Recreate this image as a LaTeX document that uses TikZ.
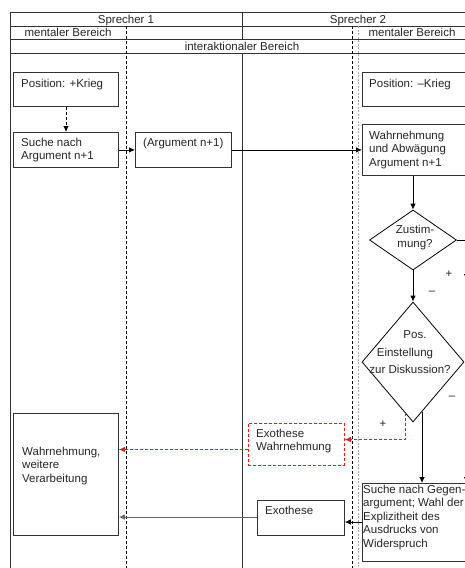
\documentclass[tikz,border=0pt]{standalone}
\usepackage{fontspec}
\setmainfont{Liberation Sans}
\usetikzlibrary{shapes.geometric,calc,arrows.meta}
\definecolor{linegray}{HTML}{333333}
\definecolor{redd}{HTML}{E02020}
\tikzset{
  grid/.style={draw=linegray, line width=0.6pt},
  lane/.style={draw=black, line width=0.6pt, dash pattern=on 3pt off 2pt},
  lanegray/.style={draw=gray!70, line width=0.5pt, dash pattern=on 2pt off 1.5pt},
  box/.style={draw=linegray, line width=0.8pt, rectangle, inner sep=0pt, anchor=north west},
  redbox/.style={draw=redd, line width=0.8pt, dash pattern=on 3pt off 2pt, rectangle, inner sep=0pt, anchor=north west},
  dia/.style={draw=black, line width=0.8pt, diamond, inner sep=0pt},
  txt/.style={inner sep=0pt, font=\fontsize{11.5}{13.5}\selectfont, align=left, anchor=north west, text=black!85},
  ctxt/.style={inner sep=0pt, font=\fontsize{11.5}{13.5}\selectfont, anchor=base, text=black!85},
  conn/.style={draw=black, line width=0.8pt, -{Latex[length=6pt,width=5.5pt]}},
  gconn/.style={draw=black!60, line width=0.9pt, -{Latex[length=6pt,width=5.5pt]}},
  rconn/.style={draw=redd, line width=0.8pt, dash pattern=on 3pt off 2pt, -{Latex[length=6pt,width=5.5pt]}},
  dconn/.style={draw=black, line width=0.8pt, dash pattern=on 3pt off 2pt, -{Latex[length=6pt,width=5.5pt]}},
}
\begin{document}
\begin{tikzpicture}[x=1pt,y=-1pt]
\useasboundingbox (0,0) rectangle (465,568);
\clip (0,0) rectangle (465,568);
\fill[white] (0,0) rectangle (465,568);
% table frame
\draw[grid] (10,12) -- (470,12);
\draw[grid] (10,26) -- (470,26);
\draw[grid] (10,39) -- (470,39);
\draw[grid] (10,53) -- (470,53);
\draw[grid] (10,12) -- (10,570);
\draw[grid] (242,12) -- (242,39);
\draw[grid] (242,53) -- (242,570);
\draw[lane] (126,26) -- (126,570);
\draw[lane] (352.5,26) -- (352.5,570);
\draw[lanegray] (358,26) -- (358,570);
% headers
\node[ctxt] (h1) at (126,23) {Sprecher 1};
\node[ctxt] (h2) at (358,23) {Sprecher 2};
\node[ctxt] (h3) at (68,36.5) {mentaler Bereich};
\node[ctxt] (h4) at (412,36.5) {mentaler Bereich};
\node[ctxt] (h5) at (242,50) {interaktionaler Bereich};
% boxes
\node[box, minimum width=105, minimum height=34] (p1) at (13,72) {};
\node[txt] (p1t) at (21,78.6) {Position: +Krieg};
\node[box, minimum width=105, minimum height=35] (s1) at (13,132) {};
\node[txt] (s1t) at (21,137.6) {Suche nach\\Argument n+1};
\node[box, minimum width=96, minimum height=35] (a1) at (135,132) {};
\node[txt] (a1t) at (143,137.6) {(Argument n+1)};
\node[box, minimum width=110, minimum height=34] (p2) at (362,72) {};
\node[txt] (p2t) at (369,78.6) {Position: --Krieg};
\node[box, minimum width=110, minimum height=51] (w2) at (362,124) {};
\node[txt] (w2t) at (369,130.6) {Wahrnehmung\\und Abwägung\\Argument n+1};
\node[dia, minimum width=87, minimum height=60] (z) at (413,240) {};
\node[ctxt] (zt1) at (415,233) {Zustim-};
\node[ctxt] (zt2) at (415,247) {mung?};
\node[dia, minimum width=102, minimum height=120] (d) at (413,362) {};
\node[ctxt] (dt1) at (415,338) {Pos.};
\node[ctxt] (dt2) at (405,356) {Einstellung};
\node[ctxt] (dt3) at (410,373) {zur Diskussion?};
\node[redbox, minimum width=96, minimum height=42] (ew) at (248,423) {};
\node[txt] (ewt) at (256,428.6) {Exothese\\Wahrnehmung};
\node[box, minimum width=105, minimum height=122] (ww) at (13,413) {};
\node[txt] (wwt) at (22,446.6) {Wahrnehmung,\\weitere\\Verarbeitung};
\node[box, minimum width=87, minimum height=35] (ex) at (257,500) {};
\node[txt] (ext) at (265,505.6) {Exothese};
\node[box, minimum width=110, minimum height=78] (g) at (362,483) {};
\node[txt] (gt) at (363,484.6) {Suche nach Gegen-\\argument; Wahl der\\Explizitheit des\\Ausdrucks von\\Widerspruch};
% labels
\node[ctxt] (l1) at (449,277) {+};
\node[ctxt] (l2) at (432,294) {--};
\node[ctxt] (l3) at (452,399) {--};
\node[ctxt] (l4) at (383,427) {+};
% connectors
\draw[dconn] (p1.south -| 66,0) -- (s1.north -| 66,0);
\draw[conn] (s1.east) -- (a1.west);
\draw[conn] (a1.east) -- (a1.east -| w2.west);
\draw[conn] (w2.south -| z.north) -- (z.north);
\draw[conn] (z.south) -- (d.north);
\coordinate (zr1) at (466.5,240);
\coordinate (zr2) at (466.5,280);
\draw[conn] (z.east) -- (zr1) -- (zr2);
\coordinate (dg) at ($(d.south)!0.176!(d.east)$);
\draw[conn] (dg) -- (dg |- g.north);
\coordinate (dr) at ($(d.south)!0.157!(d.west)$);
\coordinate (dr2) at (dr |- 0,439.5);
\draw[rconn] (dr) -- (dr2) -- (dr2 -| ew.east);
\coordinate (ewl) at (248,449.5);
\draw[rconn] (ewl) -- (ewl -| ww.east);
\coordinate (gl) at (362,522);
\draw[conn] (gl) -- (gl -| ex.east);
\coordinate (exl) at (257,517);
\draw[gconn] (exl) -- (exl -| ww.east);
\coordinate (rr1) at (466.5,430);
\draw[conn] (rr1) -- (rr1 |- g.north);
\end{tikzpicture}
\end{document}
